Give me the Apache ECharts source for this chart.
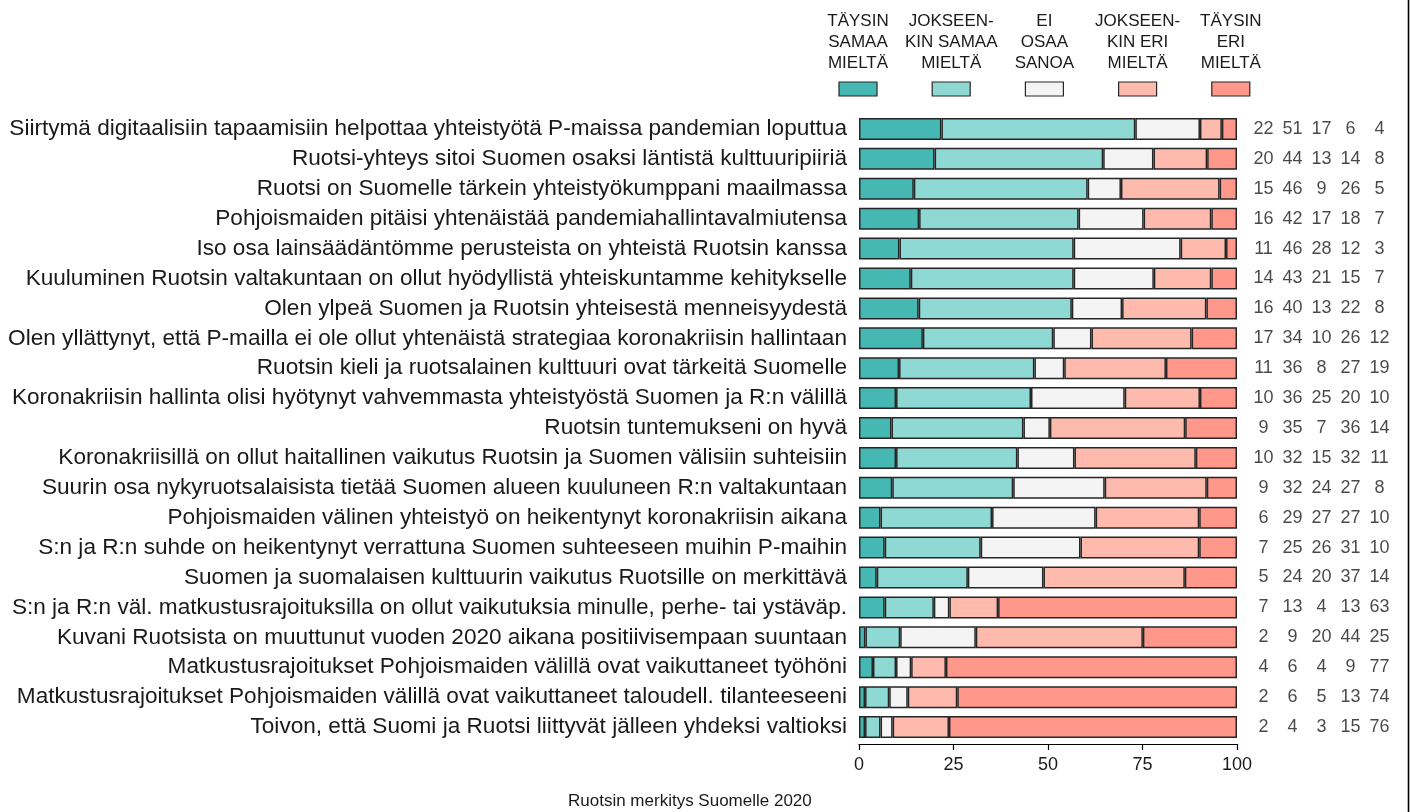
<!DOCTYPE html>
<html><head><meta charset="utf-8">
<script src="https://cdn.jsdelivr.net/npm/echarts@6/dist/echarts.min.js"></script>
<style>html,body{margin:0;padding:0;background:#fff}#c{width:1411px;height:812px}</style>
</head><body><div id="c"></div>
<script>
// ---- DATA ----
const categories = [
  'Siirtymä digitaalisiin tapaamisiin helpottaa yhteistyötä P-maissa pandemian loputtua',
  'Ruotsi-yhteys sitoi Suomen osaksi läntistä kulttuuripiiriä',
  'Ruotsi on Suomelle tärkein yhteistyökumppani maailmassa',
  'Pohjoismaiden pitäisi yhtenäistää pandemiahallintavalmiutensa',
  'Iso osa lainsäädäntömme perusteista on yhteistä Ruotsin kanssa',
  'Kuuluminen Ruotsin valtakuntaan on ollut hyödyllistä yhteiskuntamme kehitykselle',
  'Olen ylpeä Suomen ja Ruotsin yhteisestä menneisyydestä',
  'Olen yllättynyt, että P-mailla ei ole ollut yhtenäistä strategiaa koronakriisin hallintaan',
  'Ruotsin kieli ja ruotsalainen kulttuuri ovat tärkeitä Suomelle',
  'Koronakriisin hallinta olisi hyötynyt vahvemmasta yhteistyöstä Suomen ja R:n välillä',
  'Ruotsin tuntemukseni on hyvä',
  'Koronakriisillä on ollut haitallinen vaikutus Ruotsin ja Suomen välisiin suhteisiin',
  'Suurin osa nykyruotsalaisista tietää Suomen alueen kuuluneen R:n valtakuntaan',
  'Pohjoismaiden välinen yhteistyö on heikentynyt koronakriisin aikana',
  'S:n ja R:n suhde on heikentynyt verrattuna Suomen suhteeseen muihin P-maihin',
  'Suomen ja suomalaisen kulttuurin vaikutus Ruotsille on merkittävä',
  'S:n ja R:n väl. matkustusrajoituksilla on ollut vaikutuksia minulle, perhe- tai ystäväp.',
  'Kuvani Ruotsista on muuttunut vuoden 2020 aikana positiivisempaan suuntaan',
  'Matkustusrajoitukset Pohjoismaiden välillä ovat vaikuttaneet työhöni',
  'Matkustusrajoitukset Pohjoismaiden välillä ovat vaikuttaneet taloudell. tilanteeseeni',
  'Toivon, että Suomi ja Ruotsi liittyvät jälleen yhdeksi valtioksi'
];
const seriesNames = ['TÄYSIN\nSAMAA\nMIELTÄ', 'JOKSEEN-\nKIN SAMAA\nMIELTÄ', 'EI\nOSAA\nSANOA', 'JOKSEEN-\nKIN ERI\nMIELTÄ', 'TÄYSIN\nERI\nMIELTÄ'];
const colors = ['#45b8b4', '#8ed9d4', '#f4f4f4', '#ffbaae', '#ff988a'];

// bar lengths (percent)
const taysinSamaa     = [21.8, 20.0, 14.5, 15.9, 10.7, 13.7, 15.8, 16.9, 10.6, 9.8, 8.6, 9.8, 8.8, 5.7, 6.8, 4.7, 6.8, 1.7, 3.7, 1.6, 1.6];
const jokseenkinSamaa = [51.3, 44.6, 46.0, 42.2, 46.1, 43.1, 40.5, 34.5, 35.8, 35.7, 34.9, 32.1, 32.0, 29.5, 25.4, 24.1, 13.0, 9.2, 6.1, 6.4, 4.1];
const eiOsaaSanoa     = [17.1, 13.3, 8.8, 17.2, 28.3, 21.2, 13.3, 10.1, 7.9, 24.8, 7.0, 15.1, 24.2, 27.4, 26.4, 20.0, 4.1, 20.0, 4.0, 4.9, 3.2];
const jokseenkinEri   = [5.8, 14.2, 26.1, 17.9, 12.0, 15.2, 22.3, 26.5, 26.9, 19.9, 35.8, 32.1, 27.0, 27.4, 31.4, 37.4, 12.9, 44.2, 9.2, 13.1, 14.9];
const taysinEri       = [4.0, 7.9, 4.6, 6.8, 2.9, 6.8, 8.1, 12.0, 18.8, 9.8, 13.7, 10.9, 8.0, 10.0, 10.0, 13.8, 63.2, 24.9, 77.0, 74.0, 76.2];

// printed (rounded) percentages in the right-hand columns
const lblTaysinSamaa     = [22, 20, 15, 16, 11, 14, 16, 17, 11, 10, 9, 10, 9, 6, 7, 5, 7, 2, 4, 2, 2];
const lblJokseenkinSamaa = [51, 44, 46, 42, 46, 43, 40, 34, 36, 36, 35, 32, 32, 29, 25, 24, 13, 9, 6, 6, 4];
const lblEiOsaaSanoa     = [17, 13, 9, 17, 28, 21, 13, 10, 8, 25, 7, 15, 24, 27, 26, 20, 4, 20, 4, 5, 3];
const lblJokseenkinEri   = [6, 14, 26, 18, 12, 15, 22, 26, 27, 20, 36, 32, 27, 27, 31, 37, 13, 44, 9, 13, 15];
const lblTaysinEri       = [4, 8, 5, 7, 3, 7, 8, 12, 19, 10, 14, 11, 8, 10, 10, 14, 63, 25, 77, 74, 76];

const xTicks = [0, 25, 50, 75, 100];
const chartTitle = 'Ruotsin merkitys Suomelle 2020';

// ---- CHART ----
const FONT = '"Liberation Sans", Arial, sans-serif';
const barValues = [taysinSamaa, jokseenkinSamaa, eiOsaaSanoa, jokseenkinEri, taysinEri];
const labelValues = [lblTaysinSamaa, lblJokseenkinSamaa, lblEiOsaaSanoa, lblJokseenkinEri, lblTaysinEri];

const series = [];
barValues.forEach((vals, i) => {
  series.push({
    name: seriesNames[i], type: 'bar', stack: 'total', barWidth: 22,
    xAxisIndex: 0, yAxisIndex: 0,
    itemStyle: { color: colors[i], borderColor: '#262626', borderWidth: 1.5 },
    data: vals, silent: true, animation: false
  });
});
labelValues.forEach((vals, i) => {
  series.push({
    type: 'scatter', xAxisIndex: 1, yAxisIndex: 1, symbolSize: 0, silent: true, animation: false,
    label: { show: true, position: 'inside', color: '#1a1a1a', fontFamily: FONT, fontSize: 18,
             formatter: p => String(p.value[2]) },
    data: vals.map((v, r) => [i, r, v])
  });
});

// legend built as graphics (text above swatch)
const graphic = [];
seriesNames.forEach((n, i) => {
  const cx = 858 + i * 93.2;
  graphic.push({ type: 'text', x: cx, y: 11, style: { text: n, textAlign: 'center', textVerticalAlign: 'top', fill: '#1a1a1a',
    font: '17px ' + FONT, lineHeight: 21 } });
  graphic.push({ type: 'rect', shape: { x: cx - 19, y: 82, width: 38, height: 14 },
    style: { fill: colors[i], stroke: '#262626', lineWidth: 1.2 } });
});
graphic.push({ type: 'line', shape: { x1: 1408.5, y1: 0, x2: 1408.5, y2: 812 }, style: { stroke: '#000', lineWidth: 1.6 } });

const chart = echarts.init(document.getElementById('c'), null, { renderer: 'canvas' });
chart.setOption({
  backgroundColor: '#fff',
  animation: false,
  title: { text: chartTitle, left: 563, top: 788, textStyle: { fontFamily: FONT, fontSize: 17, fontWeight: 'normal', color: '#1a1a1a' } },
  grid: [
    { left: 859, width: 378, top: 114, height: 628 },
    { left: 1249, width: 145, top: 114, height: 628 }
  ],
  xAxis: [
    { type: 'value', gridIndex: 0, min: xTicks[0], max: xTicks[xTicks.length - 1], interval: 25, offset: 2,
      axisLine: { show: true, lineStyle: { color: '#000', width: 1.2 } },
      axisTick: { show: true, length: 6, lineStyle: { color: '#000', width: 1.2 } },
      splitLine: { show: false },
      axisLabel: { color: '#1a1a1a', fontFamily: FONT, fontSize: 18, margin: 12 } },
    { type: 'category', gridIndex: 1, data: [0, 1, 2, 3, 4], show: false }
  ],
  yAxis: [
    { type: 'category', gridIndex: 0, data: categories, inverse: true,
      axisLine: { show: false }, axisTick: { show: false },
      axisLabel: { color: '#1a1a1a', fontFamily: FONT, fontSize: 22.6, margin: 12 } },
    { type: 'category', gridIndex: 1, data: categories, inverse: true, show: false }
  ],
  graphic: graphic,
  series: series
});
</script>
</body></html>
